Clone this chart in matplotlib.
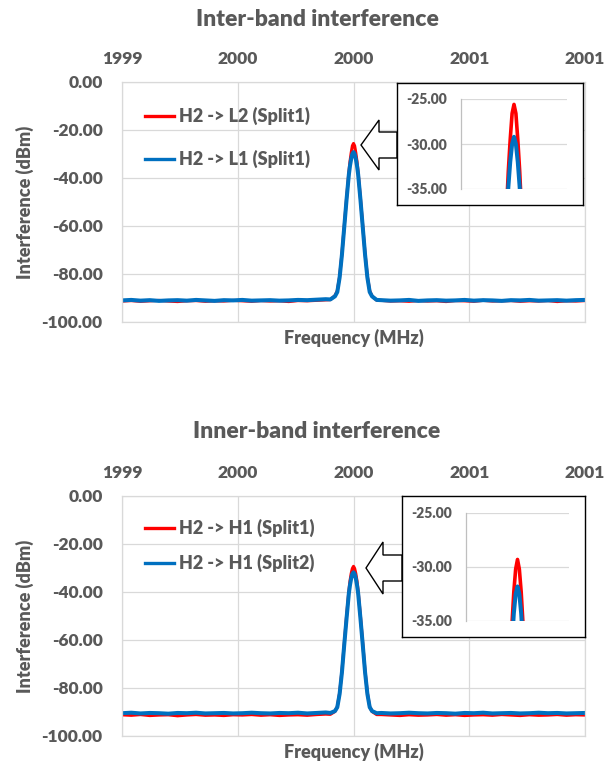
import matplotlib
matplotlib.use('Agg')
import matplotlib.pyplot as plt
from matplotlib.patches import Polygon

plt.rcParams['font.family'] = ['Lato', 'DejaVu Sans']
WEIGHT = 'heavy'
plt.rcParams['font.weight'] = WEIGHT

TEXT = '#595959'
GRID = '#d9d9d9'
RED = '#ff0000'
BLUE = '#0070c0'

# ---------------- data ----------------
freq_left = [1999.00, 1999.04, 1999.08, 1999.12, 1999.16, 1999.20, 1999.24, 1999.28,
             1999.32, 1999.36, 1999.40, 1999.44, 1999.48, 1999.52, 1999.56, 1999.60,
             1999.64, 1999.68, 1999.72, 1999.76, 1999.80, 1999.84, 1999.88]
freq_peak = [1999.90, 1999.92, 1999.93, 1999.94, 1999.95, 1999.96, 1999.97, 1999.98,
             1999.985, 1999.99, 1999.995, 2000.00, 2000.005, 2000.01, 2000.015, 2000.02,
             2000.03, 2000.04, 2000.05, 2000.06, 2000.07, 2000.08, 2000.10]
freq_right = [2000.12, 2000.16, 2000.20, 2000.24, 2000.28, 2000.32, 2000.36, 2000.40,
              2000.44, 2000.48, 2000.52, 2000.56, 2000.60, 2000.64, 2000.68, 2000.72,
              2000.76, 2000.80, 2000.84, 2000.88, 2000.92, 2000.96, 2001.00]
freq = freq_left + freq_peak + freq_right

# Inter-band: H2 -> L2 (Split1) red, H2 -> L1 (Split1) blue
top_red_left = [-91.3, -91.1, -91.4, -91.2, -91.0, -91.3, -91.5, -91.2, -91.1, -91.4, -91.2, -91.3,
                -91.0, -91.2, -91.4, -91.1, -91.3, -91.2, -91.5, -91.1, -91.2, -91.0, -90.8]
top_red_peak = [-90.7, -89.0, -87.0, -81.0, -71.5, -60.0, -48.5, -37.5, -33.0, -29.5, -26.6, -25.6,
                -26.6, -29.5, -33.0, -37.5, -48.5, -60.0, -71.5, -81.0, -87.0, -89.2, -90.9]
top_red_right = [-91.0, -91.3, -91.2, -91.4, -91.1, -91.3, -91.2, -91.5, -91.1, -91.2, -91.4, -91.0,
                 -91.3, -91.2, -91.1, -91.4, -91.2, -91.3, -91.1, -91.5, -91.2, -91.3, -91.1]
top_blue_left = [-91.0, -90.8, -91.1, -90.9, -91.2, -91.0, -90.9, -91.1, -90.8, -91.0, -91.2, -90.9,
                 -91.0, -90.8, -91.1, -91.0, -90.9, -91.1, -91.0, -90.8, -90.9, -90.7, -90.5]
top_blue_peak = [-90.6, -89.3, -87.5, -81.5, -72.0, -60.5, -49.0, -38.5, -34.8, -32.0, -30.0, -29.2,
                 -30.0, -32.0, -34.8, -38.5, -49.0, -60.5, -72.0, -81.5, -87.5, -89.3, -90.8]
top_blue_right = [-90.9, -91.1, -91.0, -90.8, -91.2, -91.0, -90.9, -91.1, -91.0, -90.8, -91.1, -90.9,
                  -91.0, -91.2, -90.9, -91.0, -90.8, -91.1, -91.0, -90.9, -91.1, -90.9, -90.8]
top_red = top_red_left + top_red_peak + top_red_right
top_blue = top_blue_left + top_blue_peak + top_blue_right

# Inner-band: H2 -> H1 (Split1) red, H2 -> H1 (Split2) blue
bot_red_left = [-91.2, -91.4, -91.1, -91.5, -91.3, -91.2, -91.6, -91.3, -91.1, -91.4, -91.3, -91.5,
                -91.2, -91.3, -91.1, -91.4, -91.2, -91.5, -91.3, -91.2, -91.4, -91.1, -90.9]
bot_red_peak = [-91.0, -89.8, -87.8, -82.0, -73.0, -61.5, -50.0, -39.5, -35.3, -32.3, -30.2, -29.3,
                -30.2, -32.3, -35.3, -39.5, -50.0, -61.5, -73.0, -82.0, -87.8, -89.8, -91.1]
bot_red_right = [-91.1, -91.3, -91.5, -91.2, -91.4, -91.3, -91.1, -91.4, -91.2, -91.5, -91.3, -91.2,
                 -91.4, -91.1, -91.3, -91.5, -91.2, -91.4, -91.3, -91.1, -91.4, -91.2, -91.3]
bot_blue_left = [-90.5, -90.3, -90.6, -90.4, -90.5, -90.7, -90.4, -90.5, -90.3, -90.6, -90.5, -90.4,
                 -90.6, -90.5, -90.3, -90.5, -90.6, -90.4, -90.5, -90.3, -90.6, -90.4, -90.2]
bot_blue_peak = [-90.4, -89.6, -88.0, -82.5, -73.5, -62.0, -51.0, -40.5, -37.0, -34.3, -32.5, -31.8,
                 -32.5, -34.3, -37.0, -40.5, -51.0, -62.0, -73.5, -82.5, -88.0, -89.6, -90.5]
bot_blue_right = [-90.4, -90.6, -90.5, -90.3, -90.5, -90.6, -90.4, -90.5, -90.7, -90.4, -90.5, -90.3,
                  -90.6, -90.5, -90.4, -90.6, -90.5, -90.3, -90.5, -90.4, -90.6, -90.5, -90.4]
bot_red = bot_red_left + bot_red_peak + bot_red_right
bot_blue = bot_blue_left + bot_blue_peak + bot_blue_right

xtick_values = [1999.0, 1999.5, 2000.0, 2000.5, 2001.0]
xtick_labels = ['1999', '2000', '2000', '2001', '2001']
ytick_values = [0, -20, -40, -60, -80, -100]
ytick_labels = ['0.00', '-20.00', '-40.00', '-60.00', '-80.00', '-100.00']
inset_ytick_values = [-25, -30, -35]
inset_ytick_labels = ['-25.00', '-30.00', '-35.00']

top_title = 'Inter-band interference'
bot_title = 'Inner-band interference'
top_labels = ['H2 -> L2 (Split1)', 'H2 -> L1 (Split1)']
bot_labels = ['H2 -> H1 (Split1)', 'H2 -> H1 (Split2)']

# ---------------- layout ----------------
W, H = 607, 763
fig = plt.figure(figsize=(W / 100, H / 100), dpi=100)


def rect(x0, y0, x1, y1):
    return [x0 / W, 1 - y1 / H, (x1 - x0) / W, (y1 - y0) / H]


def fpt(x, y):
    return (x / W, 1 - y / H)


def chart(main_box, title, title_y, red, blue, labels, leg_anchor_y, leg_spacing,
          box_rect, inset_rect, arrow):
    ax = fig.add_axes(rect(*main_box), zorder=0)
    ax.plot(freq, red, color=RED, lw=2.2, label=labels[0], solid_joinstyle='round')
    ax.plot(freq, blue, color=BLUE, lw=2.9, label=labels[1], solid_joinstyle='round')
    ax.set_xlim(1999, 2001)
    ax.set_ylim(-100, 0)
    ax.set_xticks(xtick_values)
    ax.set_xticklabels(xtick_labels)
    ax.xaxis.tick_top()
    ax.set_yticks(ytick_values)
    ax.set_yticklabels(ytick_labels)
    ax.tick_params(axis='x', length=0, pad=11, labelsize=12.5, labelcolor=TEXT)
    ax.tick_params(axis='y', length=0, pad=14, labelsize=12.5, labelcolor=TEXT)
    ax.grid(True, color=GRID, lw=0.9)
    ax.set_axisbelow(True)
    for s in ax.spines.values():
        s.set_color(GRID)
        s.set_linewidth(0.9)
    ax.set_xlabel('Frequency (MHz)', fontsize=13, color=TEXT, fontweight=WEIGHT)
    ax.xaxis.set_label_position('bottom')
    ax.xaxis.set_label_coords(0.5, -0.03)
    ax.set_ylabel('Interference (dBm)', fontsize=13, color=TEXT, fontweight=WEIGHT)
    ax.yaxis.set_label_coords(-0.19, 0.5)
    leg = ax.legend(loc='upper left', bbox_to_anchor=(0.05, leg_anchor_y), frameon=False,
                    prop={'size': 13, 'weight': WEIGHT}, handlelength=1.6, handletextpad=0.25,
                    labelspacing=leg_spacing, borderpad=0, borderaxespad=0)
    for t in leg.get_texts():
        t.set_color(TEXT)
    for ln in leg.get_lines():
        ln.set_linewidth(2.4)
    fig.text(317 / W, 1 - title_y / H, title,
             ha='center', va='center', fontsize=16.5, color=TEXT, fontweight=WEIGHT)

    # arrow pointing from the inset to the peak
    fig.add_artist(Polygon([fpt(*p) for p in arrow], closed=True, facecolor='white',
                           edgecolor='black', lw=1.0, zorder=2))

    # inset frame
    bx = fig.add_axes(rect(*box_rect), zorder=3)
    bx.set_xticks([])
    bx.set_yticks([])
    bx.set_facecolor('white')
    for s in bx.spines.values():
        s.set_color('black')
        s.set_linewidth(1.0)

    ins = fig.add_axes(rect(*inset_rect), zorder=4)
    ins.patch.set_alpha(0)
    ins.plot(freq, red, color=RED, lw=2.6, solid_joinstyle='round')
    ins.plot(freq, blue, color=BLUE, lw=2.9, solid_joinstyle='round')
    ins.set_xlim(1999.86, 2000.14)
    ins.set_ylim(-35, -25)
    ins.set_xticks([])
    ins.set_yticks(inset_ytick_values)
    ins.set_yticklabels(inset_ytick_labels)
    ins.tick_params(axis='y', length=0, pad=10, labelsize=10, labelcolor=TEXT)
    ins.grid(True, axis='y', color=GRID, lw=0.9)
    ins.set_axisbelow(True)
    for name, s in ins.spines.items():
        if name == 'left':
            s.set_color('#bfbfbf')
            s.set_linewidth(0.9)
        else:
            s.set_visible(False)
    return ax


top_arrow = [(361, 145), (379, 120), (379, 132), (397, 132), (397, 158), (379, 158), (379, 170)]
bot_arrow = [(366, 568), (383, 542), (383, 555), (402, 555), (402, 581), (383, 581), (383, 594)]

chart((122, 82, 585, 322), top_title, 20, top_red, top_blue, top_labels, 0.895, 1.35,
      (397, 83, 583, 205), (461, 99, 567, 189), top_arrow)
chart((122, 496, 585, 736), bot_title, 432, bot_red, bot_blue, bot_labels, 0.905, 0.95,
      (402, 496, 585, 637), (466, 513, 569, 621), bot_arrow)

fig.savefig('out.png', dpi=100)
